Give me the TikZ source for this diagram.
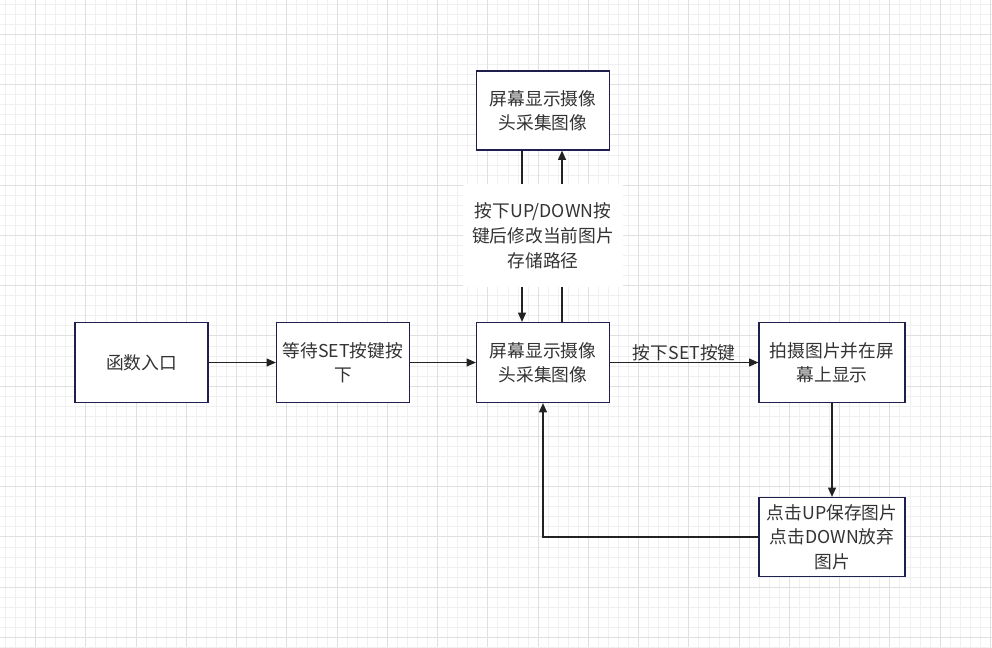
\documentclass[tikz,border=0pt]{standalone}
\usepackage{fontspec}
\setmainfont{Noto Sans CJK SC}
\usetikzlibrary{arrows.meta}
\definecolor{boxline}{HTML}{1F1F4F}
\definecolor{conline}{HTML}{222222}
\definecolor{txt}{HTML}{333333}
\definecolor{gridminor}{HTML}{F0F0F0}
\definecolor{gridmajor}{HTML}{E0E0E0}
\tikzset{
  flowbox/.style={draw=boxline, line width=0.9pt, fill=white, align=center,
    inner sep=1pt, text=txt, font=\fontsize{13.3pt}{18.3pt}\selectfont},
  arr/.style={draw=conline, line width=0.9pt, -{Triangle[length=7pt,width=6pt]}},
  lbl/.style={text=txt, font=\fontsize{13.3pt}{18.6pt}\selectfont, align=center, inner sep=1pt}
}
\begin{document}
\begin{tikzpicture}[x=0.75pt,y=-0.75pt]
\useasboundingbox (0,0) rectangle (992,647);
\fill[white] (0,0) rectangle (992,647);
% grid
\foreach \i in {0,...,98} {
  \draw[gridminor, line width=0.75pt] ({5.5+\i*10.05},0) -- ({5.5+\i*10.05},647);
}
\foreach \j in {0,...,64} {
  \draw[gridminor, line width=0.75pt] (0,{4.3+\j*10.05}) -- (992,{4.3+\j*10.05});
}
\foreach \i in {0,...,19} {
  \draw[gridmajor, line width=0.75pt] ({35.65+\i*50.25},0) -- ({35.65+\i*50.25},647);
}
\foreach \j in {0,...,12} {
  \draw[gridmajor, line width=0.75pt] (0,{34.45+\j*50.25}) -- (992,{34.45+\j*50.25});
}
% nodes
\node[flowbox, minimum width=133*0.75pt, minimum height=80*0.75pt] (A) at (141.5,362.5) {函数入口};
\node[flowbox, minimum width=133*0.75pt, minimum height=80*0.75pt] (B) at (343,362.5) {等待SET按键按\\下};
\node[flowbox, minimum width=133*0.75pt, minimum height=80*0.75pt] (C) at (543,362.5) {屏幕显示摄像\\头采集图像};
\node[flowbox, minimum width=133*0.75pt, minimum height=79*0.75pt] (T) at (543,110.5) {屏幕显示摄像\\头采集图像};
\node[flowbox, minimum width=146*0.75pt, minimum height=80*0.75pt] (R) at (832,362.5) {拍摄图片并在屏\\幕上显示};
\node[flowbox, minimum width=146*0.75pt, minimum height=79*0.75pt] (D) at (832,537) {点击UP保存图片\\点击DOWN放弃\\图片};
\coordinate (lx) at (522,0);
\coordinate (rx) at (562,0);
% connectors
\draw[arr] (A.east) -- (B.west);
\draw[arr] (B.east) -- (C.west);
\draw[arr] (C.east) -- node[lbl, above, yshift=0pt] (Lset) {按下SET按键} (R.west);
\draw[arr] (T.south -| lx) -- (C.north -| lx);
\draw[arr] (C.north -| rx) -- (T.south -| rx);
\node[lbl, fill=white, minimum width=160*0.75pt, minimum height=103*0.75pt] (Lud) at (543,235.5) {按下UP/DOWN按\\键后修改当前图片\\存储路径};
\draw[arr] (R.south) -- (D.north);
\draw[arr] (D.west) -| (C.south);
\end{tikzpicture}
\end{document}
